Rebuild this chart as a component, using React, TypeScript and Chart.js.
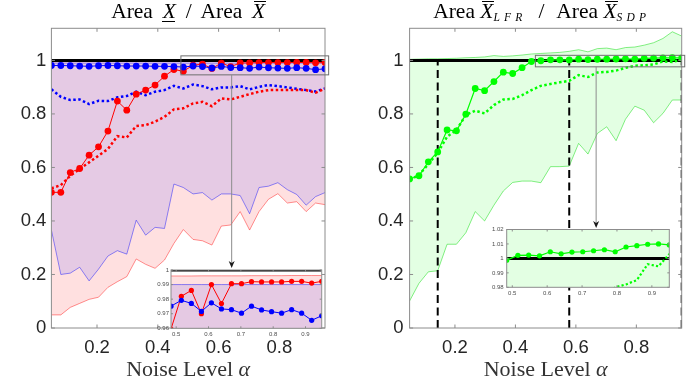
import React, { useEffect, useRef } from 'react';
import { Chart, registerables } from 'chart.js';

Chart.register(...registerables);

// ---------------- data ----------------
const NOISE = [0.05, 0.081, 0.112, 0.143, 0.174, 0.205, 0.236, 0.267, 0.298, 0.329, 0.36, 0.391, 0.422, 0.453, 0.484, 0.516, 0.547, 0.578, 0.609, 0.64, 0.671, 0.702, 0.733, 0.764, 0.795, 0.826, 0.857, 0.888, 0.919, 0.95];

const X_TICKS = [0.2, 0.4, 0.6, 0.8];
const Y_TICKS = [0, 0.2, 0.4, 0.6, 0.8, 1];
const INSET_X_TICKS = [0.5, 0.6, 0.7, 0.8, 0.9];
const LEFT_INSET_Y_TICKS = [0.96, 0.97, 0.98, 0.99, 1];
const RIGHT_INSET_Y_TICKS = [0.98, 0.99, 1, 1.01, 1.02];
const REFERENCE = 1;
const DASHED_X = [0.143, 0.578, 0.95];

// left panel: Area X_ / Area X-bar
const RED_MEDIAN = [0.507, 0.507, 0.581, 0.596, 0.646, 0.677, 0.736, 0.848, 0.814, 0.874, 0.889, 0.908, 0.941, 0.966, 0.9595, 0.982, 0.986, 0.970, 0.990, 0.977, 0.9906, 0.9906, 0.992, 0.9918, 0.9918, 0.9918, 0.9922, 0.9922, 0.991, 0.9922];
const BLUE_MEDIAN = [0.981, 0.981, 0.980, 0.979, 0.978, 0.980, 0.981, 0.980, 0.979, 0.979, 0.979, 0.978, 0.978, 0.977, 0.9752, 0.9792, 0.9771, 0.9716, 0.9775, 0.9733, 0.9728, 0.9704, 0.9752, 0.9726, 0.9714, 0.9704, 0.9728, 0.9704, 0.9655, 0.9686];
const RED_MEAN = [0.522, 0.534, 0.569, 0.594, 0.619, 0.644, 0.669, 0.717, 0.712, 0.755, 0.758, 0.771, 0.789, 0.817, 0.821, 0.839, 0.845, 0.829, 0.858, 0.854, 0.864, 0.874, 0.883, 0.889, 0.889, 0.889, 0.889, 0.889, 0.879, 0.895];
const BLUE_MEAN = [0.892, 0.864, 0.852, 0.854, 0.837, 0.849, 0.848, 0.862, 0.867, 0.883, 0.870, 0.883, 0.889, 0.905, 0.895, 0.910, 0.904, 0.892, 0.899, 0.899, 0.904, 0.892, 0.901, 0.908, 0.904, 0.899, 0.894, 0.889, 0.884, 0.895];
const RED_LOWER = [0.049, 0.049, 0.077, 0.092, 0.107, 0.115, 0.152, 0.173, 0.192, 0.258, 0.238, 0.223, 0.254, 0.316, 0.368, 0.331, 0.326, 0.310, 0.381, 0.385, 0.435, 0.366, 0.435, 0.481, 0.502, 0.467, 0.472, 0.435, 0.467, 0.461];
const RED_UPPER = [0.9955, 0.9955, 0.9955, 0.9956, 0.9956, 0.9956, 0.9957, 0.9957, 0.9957, 0.9957, 0.9958, 0.9958, 0.9958, 0.9958, 0.9959, 0.9959, 0.9959, 0.996, 0.996, 0.996, 0.996, 0.996, 0.9961, 0.9961, 0.9961, 0.9961, 0.9962, 0.9962, 0.9962, 0.9962];
const BLUE_LOWER = [0.366, 0.200, 0.205, 0.227, 0.176, 0.220, 0.269, 0.289, 0.276, 0.403, 0.347, 0.376, 0.372, 0.538, 0.525, 0.501, 0.506, 0.478, 0.501, 0.501, 0.495, 0.427, 0.525, 0.530, 0.543, 0.517, 0.499, 0.459, 0.491, 0.506];
const BLUE_UPPER = [0.99, 0.99, 0.99, 0.99, 0.99, 0.99, 0.99, 0.99, 0.99, 0.99, 0.99, 0.99, 0.99, 0.99, 0.99, 0.99, 0.99, 0.99, 0.99, 0.99, 0.99, 0.99, 0.99, 0.99, 0.99, 0.99, 0.99, 0.99, 0.99, 0.99];

// right panel: Area X-bar_LFR / Area X-bar_SDP
const GREEN_MEDIAN = [0.557, 0.569, 0.621, 0.658, 0.740, 0.737, 0.799, 0.895, 0.887, 0.921, 0.956, 0.951, 0.973, 0.996, 0.9988, 1.0021, 1.0023, 1.0018, 1.0046, 1.0032, 1.0044, 1.0046, 1.0053, 1.0060, 1.0046, 1.0079, 1.0088, 1.0098, 1.0100, 1.0093];
const GREEN_MEAN = [0.553, 0.572, 0.612, 0.655, 0.715, 0.740, 0.796, 0.812, 0.802, 0.833, 0.854, 0.856, 0.870, 0.889, 0.905, 0.912, 0.918, 0.924, 0.945, 0.938, 0.955, 0.957, 0.962, 0.972, 0.980, 0.982, 0.985, 0.996, 0.9945, 1.003];
const GREEN_LOWER = [0.101, 0.167, 0.210, 0.214, 0.313, 0.313, 0.356, 0.435, 0.400, 0.459, 0.512, 0.544, 0.549, 0.549, 0.543, 0.603, 0.603, 0.605, 0.690, 0.650, 0.727, 0.752, 0.700, 0.780, 0.829, 0.814, 0.767, 0.802, 0.852, 0.852];
const GREEN_UPPER = [1.004, 1.005, 1.006, 1.006, 1.007, 1.008, 1.010, 1.011, 1.013, 1.018, 1.015, 1.017, 1.020, 1.024, 1.026, 1.028, 1.030, 1.034, 1.040, 1.032, 1.044, 1.046, 1.040, 1.048, 1.050, 1.057, 1.066, 1.082, 1.107, 1.091];

// zoom annotations (data units of the main panels): [x0, x1, yBottom, yTop]
const LEFT_ZOOM_BOX = [0.476, 0.962, 0.946, 1.017];
const LEFT_ARROW = { x: 0.643, tip: 0.224 };
const RIGHT_ZOOM_BOX = [0.466, 0.96, 0.976, 1.019];
const RIGHT_ARROW = { x: 0.667, tip: 0.3735 };

// ---------------- styles ----------------
const RED = '#ff0000';
const BLUE = '#0000ff';
const GREEN = '#00ff00';
const RED_FILL = 'rgba(255,0,0,0.12)';
const BLUE_FILL = 'rgba(0,0,255,0.10)';
const GREEN_FILL = 'rgba(0,255,0,0.11)';
const RED_EDGE = 'rgba(255,0,0,0.55)';
const BLUE_EDGE = 'rgba(0,0,255,0.55)';
const GREEN_EDGE = 'rgba(0,220,0,0.6)';
const BOX = '#8c8c8c';
const SANS = "'Liberation Sans', Arial, sans-serif";
const SERIF = "'Liberation Serif', 'Times New Roman', serif";

const series = (ys: number[]) => NOISE.map((x, i) => ({ x, y: ys[i] }));

const band = (lower: number[], upper: number[], edge: string, fillColor: string, order: number) => [
  { data: series(lower), borderColor: edge, borderWidth: 0.8, pointRadius: 0, fill: false, order },
  { data: series(upper), borderColor: edge, borderWidth: 0.8, pointRadius: 0, fill: '-1', backgroundColor: fillColor, order },
];
const refLine = (w: number) => ({
  data: [{ x: NOISE[0], y: REFERENCE }, { x: NOISE[NOISE.length - 1], y: REFERENCE }],
  borderColor: '#000', borderWidth: w, pointRadius: 0, fill: false, order: 5,
});
const dotted = (ys: number[], c: string, w: number) => ({
  data: series(ys), borderColor: c, borderWidth: w, borderDash: [w, w], borderCapStyle: 'butt',
  pointRadius: 0, fill: false, order: 4,
});
const solid = (ys: number[], c: string, r: number, w: number, order: number) => ({
  data: series(ys), borderColor: c, borderWidth: w, pointRadius: r, pointBackgroundColor: c,
  pointBorderWidth: 0, pointBorderColor: c, fill: false, order,
});
const dashedV = (v: number) => ({
  data: [{ x: v, y: 0 }, { x: v, y: REFERENCE }],
  borderColor: '#000', borderWidth: 2, borderDash: [8, 4.5], pointRadius: 0, fill: false, order: 6,
});

function axes(o: any) {
  return {
    x: {
      type: 'linear', min: o.xMin, max: o.xMax,
      grid: { display: false, drawTicks: false }, border: { display: false },
      afterBuildTicks: (s: any) => { s.ticks = o.xTicks.map((v: number) => ({ value: v })); },
      afterFit: (s: any) => { s.height = o.xHeight; },
      ticks: { autoSkip: false, maxRotation: 0, minRotation: 0, padding: o.xPad, color: o.color, font: { family: SANS, size: o.size }, callback: (v: number) => String(v) },
    },
    y: {
      type: 'linear', min: o.yMin, max: o.yMax,
      grid: { display: false, drawTicks: false }, border: { display: false },
      afterBuildTicks: (s: any) => { s.ticks = o.yTicks.map((v: number) => ({ value: v })); },
      afterFit: (s: any) => { s.width = o.yWidth; },
      ticks: { autoSkip: false, padding: o.yPad, color: o.color, font: { family: SANS, size: o.size }, callback: (v: number) => String(v) },
    },
  };
}

function baseOptions(pad: any, scales: any) {
  return {
    responsive: false, animation: false, devicePixelRatio: 1, events: [],
    layout: { padding: pad },
    elements: { line: { tension: 0 } },
    plugins: { legend: { display: false }, tooltip: { enabled: false }, title: { display: false } },
    scales,
  };
}

function boxPlugin(len: number) {
  return {
    id: 'matlabBox',
    afterDatasetsDraw(chart: any) {
      const { ctx, chartArea: a, scales } = chart;
      const xs = scales.x, ys = scales.y;
      ctx.save();
      ctx.strokeStyle = BOX; ctx.lineWidth = 1;
      ctx.strokeRect(a.left, a.top, a.right - a.left, a.bottom - a.top);
      ctx.beginPath();
      xs.ticks.forEach((t: any) => {
        const p = xs.getPixelForValue(t.value);
        ctx.moveTo(p, a.bottom); ctx.lineTo(p, a.bottom - len);
        ctx.moveTo(p, a.top); ctx.lineTo(p, a.top + len);
      });
      ys.ticks.forEach((t: any) => {
        const p = ys.getPixelForValue(t.value);
        ctx.moveTo(a.left, p); ctx.lineTo(a.left + len, p);
        ctx.moveTo(a.right, p); ctx.lineTo(a.right - len, p);
      });
      ctx.stroke();
      ctx.restore();
    },
  };
}

const whiteBg = {
  id: 'whiteBg',
  beforeDatasetsDraw(chart: any) {
    const { ctx, chartArea: a } = chart;
    ctx.save(); ctx.fillStyle = '#fff';
    ctx.fillRect(a.left, a.top, a.right - a.left, a.bottom - a.top);
    ctx.restore();
  },
};

function zoomMark(box: number[], arrow: { x: number; tip: number }) {
  return {
    id: 'zoomMark',
    afterDatasetsDraw(chart: any) {
      const { ctx, scales: { x, y } } = chart;
      const L = x.getPixelForValue(box[0]), R = x.getPixelForValue(box[1]);
      const B = y.getPixelForValue(box[2]), T = y.getPixelForValue(box[3]);
      ctx.save();
      ctx.strokeStyle = '#6e6e6e'; ctx.lineWidth = 1;
      ctx.strokeRect(L, T, R - L, B - T);
      const ax = x.getPixelForValue(arrow.x), tip = y.getPixelForValue(arrow.tip);
      ctx.strokeStyle = '#8c8c8c';
      ctx.beginPath(); ctx.moveTo(ax, B); ctx.lineTo(ax, tip - 4); ctx.stroke();
      ctx.fillStyle = '#1a1a1a';
      ctx.beginPath();
      ctx.moveTo(ax, tip); ctx.lineTo(ax - 3, tip - 7); ctx.lineTo(ax, tip - 5); ctx.lineTo(ax + 3, tip - 7);
      ctx.closePath(); ctx.fill();
      ctx.restore();
    },
  };
}

const MAIN_AXES = { xMin: 0.05, xMax: 0.95, yMin: 0, yMax: 1.12, xTicks: X_TICKS, yTicks: Y_TICKS, xHeight: 58, xPad: 9, color: '#262626', size: 18.5 };

function leftMain() {
  return {
    type: 'line',
    data: {
      datasets: [
        ...band(RED_LOWER, RED_UPPER, RED_EDGE, RED_FILL, 10),
        ...band(BLUE_LOWER, BLUE_UPPER, BLUE_EDGE, BLUE_FILL, 9),
        refLine(3),
        dotted(RED_MEAN, RED, 2.5),
        dotted(BLUE_MEAN, BLUE, 2.5),
        solid(RED_MEDIAN, RED, 3.4, 1, 3),
        solid(BLUE_MEDIAN, BLUE, 3.4, 1, 2),
      ],
    },
    options: baseOptions({ left: 0, top: 28.3, right: 15, bottom: 0 }, axes({ ...MAIN_AXES, yWidth: 51.4, yPad: 5 })),
    plugins: [boxPlugin(3.5), zoomMark(LEFT_ZOOM_BOX, LEFT_ARROW)],
  };
}

function leftInset() {
  return {
    type: 'line',
    data: {
      datasets: [
        ...band(RED_LOWER, RED_UPPER, RED_EDGE, RED_FILL, 10),
        ...band(BLUE_LOWER, BLUE_UPPER, BLUE_EDGE, BLUE_FILL, 9),
        refLine(3),
        solid(RED_MEDIAN, RED, 2.6, 1, 3),
        solid(BLUE_MEDIAN, BLUE, 2.6, 1, 2),
      ],
    },
    options: baseOptions({ left: 0, top: 8, right: 8.3, bottom: 0 }, axes({
      xMin: NOISE[14], xMax: NOISE[29], yMin: 0.96, yMax: 1, xTicks: INSET_X_TICKS, yTicks: LEFT_INSET_Y_TICKS,
      xHeight: 13.7, yWidth: 31, xPad: 2, yPad: 2, color: '#4d4d4d', size: 6,
    })),
    plugins: [whiteBg, boxPlugin(2)],
  };
}

function rightMain() {
  return {
    type: 'line',
    data: {
      datasets: [
        ...band(GREEN_LOWER, GREEN_UPPER, GREEN_EDGE, GREEN_FILL, 10),
        refLine(3),
        ...DASHED_X.map(dashedV),
        dotted(GREEN_MEAN, GREEN, 2.5),
        solid(GREEN_MEDIAN, GREEN, 3.4, 1.2, 3),
      ],
    },
    options: baseOptions({ left: 0, top: 28.3, right: 17.3, bottom: 0 }, axes({ ...MAIN_AXES, yWidth: 64.6, yPad: 6 })),
    plugins: [boxPlugin(3.5), zoomMark(RIGHT_ZOOM_BOX, RIGHT_ARROW)],
  };
}

function rightInset() {
  return {
    type: 'line',
    data: {
      datasets: [
        ...band(GREEN_LOWER, GREEN_UPPER, GREEN_EDGE, GREEN_FILL, 10),
        refLine(3),
        dotted(GREEN_MEAN, GREEN, 2.2),
        solid(GREEN_MEDIAN, GREEN, 2.6, 1.2, 3),
      ],
    },
    options: baseOptions({ left: 0, top: 9.5, right: 10.7, bottom: 0 }, axes({
      xMin: NOISE[14], xMax: NOISE[29], yMin: 0.98, yMax: 1.02, xTicks: INSET_X_TICKS, yTicks: RIGHT_INSET_Y_TICKS,
      xHeight: 12.7, yWidth: 36.7, xPad: 2, yPad: 3, color: '#4d4d4d', size: 6,
    })),
    plugins: [whiteBg, boxPlugin(2)],
  };
}

function ChartCanvas({ make, left, top, width, height }: any) {
  const ref = useRef<HTMLCanvasElement>(null);
  useEffect(() => {
    const chart = new Chart(ref.current as HTMLCanvasElement, make());
    return () => chart.destroy();
  }, []);
  return <canvas ref={ref} width={width} height={height} style={{ position: 'absolute', left, top, width, height }} />;
}

const Bar = ({ top, left = 0, right = 0 }: any) => (
  <span style={{ position: 'absolute', left, right, top, height: 1.2, background: '#000' }} />
);

const MathX = ({ over, under }: any) => (
  <span style={{ position: 'relative', display: 'inline-block', fontStyle: 'italic' }}>
    X
    {over && <Bar top={1} left={2} right={-1} />}
    {under && <Bar top={20.5} left={-1} right={1} />}
  </span>
);

const Sub = ({ children }: any) => (
  <span style={{ position: 'relative', top: 3.2, fontStyle: 'italic', fontSize: 11.5, letterSpacing: '4.2px', lineHeight: '12px' }}>{children}</span>
);

const titleStyle: any = {
  position: 'absolute', top: 0, textAlign: 'center', font: `21.5px ${SERIF}`, lineHeight: '22px',
  color: '#000', whiteSpace: 'nowrap',
};
const xLabelStyle: any = {
  position: 'absolute', top: 357.3, textAlign: 'center', font: `22px ${SERIF}`, lineHeight: '24px',
  color: '#333', whiteSpace: 'nowrap',
};

export default function App() {
  return (
    <div style={{ position: 'fixed', left: 0, top: 0, width: 699, height: 386, background: '#fff', overflow: 'hidden' }}>
      <ChartCanvas make={leftMain} left={0} top={0} width={340} height={386} />
      <ChartCanvas make={rightMain} left={345} top={0} width={354} height={386} />
      <ChartCanvas make={leftInset} left={140} top={262} width={190} height={80} />
      <ChartCanvas make={rightInset} left={470} top={220} width={210} height={80} />
      <div style={{ ...titleStyle, left: 51.4, width: 273.6, wordSpacing: '4.5px' }}>
        Area <MathX under /> / Area <MathX over />
      </div>
      <div style={{ ...titleStyle, left: 409.6, width: 264.2 }}>
        Area <MathX over /><Sub>LFR</Sub><span style={{ wordSpacing: '6.5px' }}> / </span>Area <MathX over /><Sub>SDP</Sub>
      </div>
      <div style={{ ...xLabelStyle, left: 51.4, width: 273.6 }}>
        Noise Level <i>α</i>
      </div>
      <div style={{ ...xLabelStyle, left: 409.6, width: 272.1 }}>
        Noise Level <i>α</i>
      </div>
    </div>
  );
}
